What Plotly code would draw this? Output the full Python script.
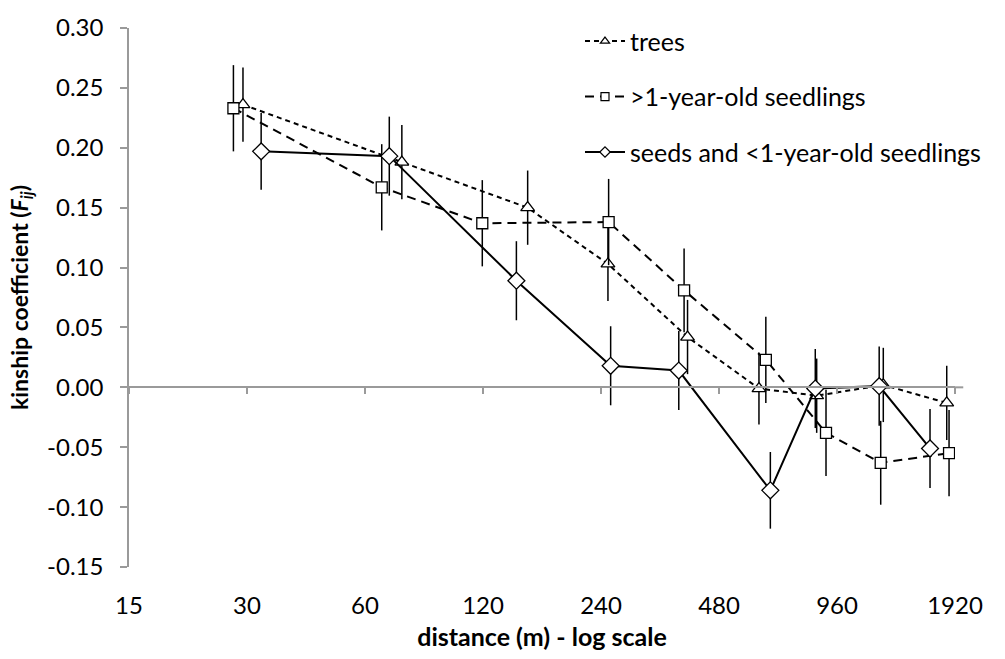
import math
import plotly.graph_objects as go

# ---- data ----
tree_x = [29.3, 74.5, 156, 250, 399, 607, 852, 1260, 1829]
tree_y = [0.236, 0.188, 0.150, 0.103, 0.042, -0.001, -0.007, 0.002, -0.013]
tree_err = [0.031, 0.031, 0.031, 0.031, 0.031, 0.030, 0.031, 0.031, 0.031]

sdl_x = [27.7, 66.2, 119.5, 251, 391, 632, 900, 1241, 1854]
sdl_y = [0.233, 0.167, 0.137, 0.138, 0.081, 0.023, -0.038, -0.063, -0.055]
sdl_err = [0.036, 0.036, 0.036, 0.036, 0.035, 0.036, 0.036, 0.035, 0.036]

seed_x = [32.6, 69.2, 146, 254, 379, 649, 845, 1230, 1658]
seed_y = [0.197, 0.193, 0.089, 0.018, 0.014, -0.086, -0.001, 0.001, -0.051]
seed_err = [0.032, 0.033, 0.033, 0.033, 0.033, 0.032, 0.033, 0.033, 0.033]

series_names = ["trees", ">1-year-old seedlings", "seeds and <1-year-old seedlings"]

x_ticks = [15, 30, 60, 120, 240, 480, 960, 1920]
y_ticks = [-0.15, -0.10, -0.05, 0.00, 0.05, 0.10, 0.15, 0.20, 0.25, 0.30]

FONT = "Lato"
GRAY = "#9a9a9a"

fig = go.Figure()

styles = [
    ("triangle-up", "5px,4px", 12),
    ("square", "9px,6px", 11),
    ("diamond", "solid", 13),
]
data = [(tree_x, tree_y, tree_err), (sdl_x, sdl_y, sdl_err), (seed_x, seed_y, seed_err)]

for name, (xs, ys, errs), (sym, dash, msize) in zip(series_names, data, styles):
    fig.add_trace(go.Scatter(
        x=xs, y=ys, name=name, mode="lines+markers", showlegend=False,
        line=dict(color="black", width=2, dash=dash),
        marker=dict(symbol=sym, size=msize, color="white",
                    line=dict(color="black", width=1.3)),
        error_y=dict(type="data", array=errs, visible=True,
                     color="black", thickness=1.5, width=0),
    ))

# legend entries (smaller markers, like the reference legend)
for i, (name, (sym, dash, msize)) in enumerate(zip(series_names, styles)):
    fig.add_trace(go.Scatter(
        x=[None], y=[None], name=name, mode="lines+markers",
        line=dict(color="black", width=2, dash=dash),
        marker=dict(symbol=sym, size=8, color="white",
                    line=dict(color="black", width=1.2)),
        legendgroup=f"g{i}",
    ))

xr = [math.log10(15), math.log10(1920)]
yr = [-0.15, 0.30]

fig.update_layout(
    width=1005, height=659,
    margin=dict(l=129, r=50, t=19, b=90),
    paper_bgcolor="white", plot_bgcolor="white",
    font=dict(family=FONT, size=24, color="black"),
    showlegend=True,
    legend=dict(x=0.546, y=1.018, xanchor="left", yanchor="top",
                font=dict(size=25, family=FONT), bgcolor="rgba(0,0,0,0)",
                traceorder="grouped", tracegroupgap=20, itemwidth=40),
    xaxis=dict(type="log", range=xr, tickvals=x_ticks,
               ticktext=[str(v) for v in x_ticks],
               showline=False, ticks="", showgrid=False, zeroline=False,
               tickfont=dict(size=24, family=FONT), ticklabelstandoff=22,
               title=dict(text="<b>distance (m) - log scale</b>",
                          font=dict(size=25, family=FONT), standoff=10)),
    xaxis2=dict(type="log", range=xr, tickvals=x_ticks, overlaying="x",
                anchor="free", position=(0 - yr[0]) / (yr[1] - yr[0]),
                side="bottom", showline=True, linecolor=GRAY, linewidth=2,
                ticks="outside", ticklen=6, tickcolor=GRAY, tickwidth=1.5,
                showticklabels=False, showgrid=False, zeroline=False),
    yaxis=dict(range=yr, tickvals=y_ticks,
               ticktext=[f"{v:.2f}" for v in y_ticks],
               showline=True, linecolor=GRAY, linewidth=1.5,
               ticks="outside", ticklen=7, tickcolor=GRAY, tickwidth=1.5,
               showgrid=False, zeroline=False, ticklabelstandoff=12,
               tickfont=dict(size=24, family=FONT),
               title=dict(text="<b>kinship coefficient (<i>F<sub>ij</sub></i>)</b>",
                          font=dict(size=23, family=FONT), standoff=12)),
    shapes=[dict(type="line", xref="paper", yref="y", x0=1.0, x1=1.01, y0=0, y1=0,
                 line=dict(color=GRAY, width=2))],
)

# invisible trace to activate xaxis2
fig.add_trace(go.Scatter(x=[x_ticks[0]], y=[0], xaxis="x2", mode="markers",
                         marker=dict(opacity=0), showlegend=False, hoverinfo="skip"))

fig.write_html("out.html")
